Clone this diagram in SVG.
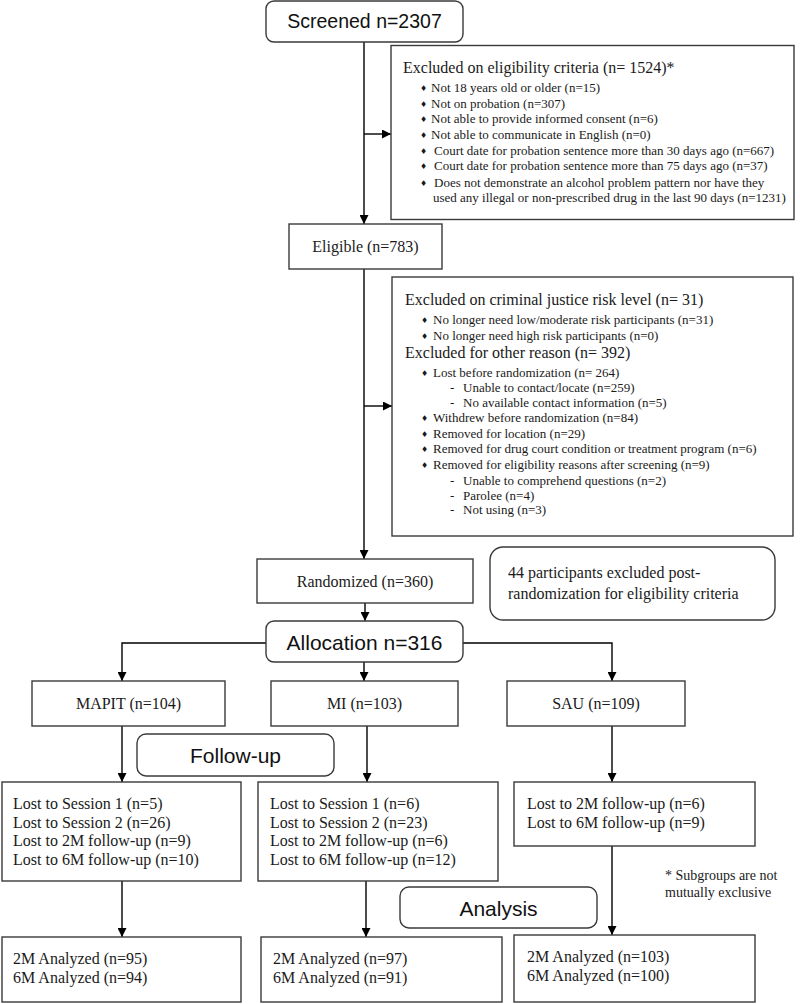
<svg xmlns="http://www.w3.org/2000/svg" width="800" height="1004" viewBox="0 0 800 1004">
<defs>
<marker id="ah" viewBox="0 0 10 10" refX="10" refY="5" markerWidth="9" markerHeight="9" markerUnits="userSpaceOnUse" orient="auto">
<path d="M0,0 L10,5 L0,10 z" fill="#000"/>
</marker>
<style>
.box{fill:#fff;stroke:#3a3a3a;stroke-width:1.4}
.ln{fill:none;stroke:#000;stroke-width:1.4}
.arr{fill:none;stroke:#000;stroke-width:1.4;marker-end:url(#ah)}
.sans{font-family:"Liberation Sans",Arial,sans-serif;fill:#111}
.ser{font-family:"Liberation Serif","Times New Roman",serif;fill:#1a1a1a}
.s16{font-size:16px}
.s13{font-size:13px}
.s14{font-size:14px}
.bul{font-family:"DejaVu Sans",sans-serif;font-size:8px;fill:#1a1a1a}
.mid{text-anchor:middle}
</style>
</defs>
<rect width="800" height="1004" fill="#fff"/>

<g id="connectors">
<path class="arr" d="M364,42 V224"/>
<path class="arr" d="M364,134 H391"/>
<path class="arr" d="M364,269 V559"/>
<path class="arr" d="M364,406 H392"/>
<path class="arr" d="M365,603 V621"/>
<path class="arr" d="M266,643 H122 V681"/>
<path class="arr" d="M364,662 V681"/>
<path class="arr" d="M463,643 H612 V681"/>
<path class="arr" d="M122,726 V782"/>
<path class="arr" d="M367,726 V782"/>
<path class="arr" d="M612,726 V782"/>
<path class="arr" d="M122,881 V937"/>
<path class="arr" d="M366,881 V937"/>
<path class="arr" d="M612,846 V935"/>
</g>

<g id="screened">
<rect class="box" x="266" y="1" width="197" height="41" rx="8"/>
<text class="sans mid" x="364.5" y="28" font-size="19.5">Screened n=2307</text>
</g>

<g id="excluded-eligibility">
<rect class="box" x="391" y="45.5" width="403" height="174"/>
<text class="ser s16" x="403" y="73">Excluded on eligibility criteria (n= 1524)*</text>
<g class="ser s13">
<text x="431" y="92">Not 18 years old or older (n=15)</text>
<text x="431" y="108">Not on probation (n=307)</text>
<text x="431" y="123">Not able to provide informed consent (n=6)</text>
<text x="431" y="139">Not able to communicate in English (n=0)</text>
<text x="434" y="155">Court date for probation sentence more than 30 days ago (n=667)</text>
<text x="434" y="170">Court date for probation sentence more than 75 days ago (n=37)</text>
<text x="434" y="187">Does not demonstrate an alcohol problem pattern nor have they</text>
<text x="433" y="202">used any illegal or non-prescribed drug in the last 90 days (n=1231)</text>
</g>
<g class="bul">
<text x="420" y="91">♦</text>
<text x="420" y="107">♦</text>
<text x="420" y="122">♦</text>
<text x="420" y="138">♦</text>
<text x="420" y="154">♦</text>
<text x="420" y="169">♦</text>
<text x="420" y="186">♦</text>
</g>
</g>

<g id="eligible">
<rect class="box" x="289" y="224" width="153" height="45"/>
<text class="ser s16 mid" x="365.5" y="252">Eligible (n=783)</text>
</g>

<g id="excluded-other">
<rect class="box" x="392" y="277" width="401" height="259"/>
<text class="ser s16" x="405" y="304.5">Excluded on criminal justice risk level (n= 31)</text>
<text class="ser s16" x="405" y="357.5">Excluded for other reason (n= 392)</text>
<g class="ser s13">
<text x="433" y="323.5">No longer need low/moderate risk participants (n=31)</text>
<text x="433" y="339.5">No longer need high risk participants (n=0)</text>
<text x="433" y="376.5">Lost before randomization (n= 264)</text>
<text x="450" y="391.5">-</text><text x="463" y="391.5">Unable to contact/locate (n=259)</text>
<text x="450" y="406.5">-</text><text x="463" y="406.5">No available contact information (n=5)</text>
<text x="433" y="422">Withdrew before randomization (n=84)</text>
<text x="433" y="437.5">Removed for location (n=29)</text>
<text x="433" y="453">Removed for drug court condition or treatment program (n=6)</text>
<text x="433" y="469">Removed for eligibility reasons after screening (n=9)</text>
<text x="450" y="484.5">-</text><text x="463" y="484.5">Unable to comprehend questions (n=2)</text>
<text x="450" y="499.5">-</text><text x="463" y="499.5">Parolee (n=4)</text>
<text x="450" y="514">-</text><text x="463" y="514">Not using (n=3)</text>
</g>
<g class="bul">
<text x="421" y="322.5">♦</text>
<text x="421" y="338.5">♦</text>
<text x="421" y="375.5">♦</text>
<text x="421" y="421">♦</text>
<text x="421" y="436.5">♦</text>
<text x="421" y="452">♦</text>
<text x="421" y="468">♦</text>
</g>
</g>

<g id="randomized">
<rect class="box" x="257" y="559" width="216" height="44"/>
<text class="ser s16 mid" x="365" y="587">Randomized (n=360)</text>
</g>

<g id="post-randomization-note">
<rect class="box" x="490" y="547" width="285" height="73" rx="13"/>
<text class="ser s16" x="508" y="578">44 participants excluded post-</text>
<text class="ser s16" x="508" y="599">randomization for eligibility criteria</text>
</g>

<g id="allocation">
<rect class="box" x="266" y="621" width="197" height="41" rx="8"/>
<text class="sans mid" x="364.5" y="650" font-size="21">Allocation n=316</text>
</g>

<g id="mapit">
<rect class="box" x="32" y="681" width="193" height="45"/>
<text class="ser s16 mid" x="128.5" y="709">MAPIT (n=104)</text>
</g>

<g id="mi">
<rect class="box" x="271" y="681" width="187" height="45"/>
<text class="ser s16 mid" x="364.5" y="709">MI (n=103)</text>
</g>

<g id="sau">
<rect class="box" x="507" y="681" width="178" height="45"/>
<text class="ser s16 mid" x="596" y="709">SAU (n=109)</text>
</g>

<g id="follow-up">
<rect class="box" x="137" y="734" width="197" height="42" rx="9"/>
<text class="sans mid" x="235.5" y="763" font-size="21">Follow-up</text>
</g>

<g id="lost-mapit">
<rect class="box" x="2" y="782" width="239" height="99"/>
<text class="ser s16" x="13" y="809">Lost to Session 1 (n=5)</text>
<text class="ser s16" x="13" y="828">Lost to Session 2 (n=26)</text>
<text class="ser s16" x="13" y="846">Lost to 2M follow-up (n=9)</text>
<text class="ser s16" x="13" y="865">Lost to 6M follow-up (n=10)</text>
</g>

<g id="lost-mi">
<rect class="box" x="258" y="782" width="240" height="99"/>
<text class="ser s16" x="270" y="809">Lost to Session 1 (n=6)</text>
<text class="ser s16" x="270" y="828">Lost to Session 2 (n=23)</text>
<text class="ser s16" x="270" y="846">Lost to 2M follow-up (n=6)</text>
<text class="ser s16" x="270" y="865">Lost to 6M follow-up (n=12)</text>
</g>

<g id="lost-sau">
<rect class="box" x="514" y="782" width="241" height="64"/>
<text class="ser s16" x="527" y="809">Lost to 2M follow-up (n=6)</text>
<text class="ser s16" x="527" y="828">Lost to 6M follow-up (n=9)</text>
</g>

<g id="footnote">
<text class="ser s14" x="665" y="880">* Subgroups are not</text>
<text class="ser s14" x="665" y="897">mutually exclusive</text>
</g>

<g id="analysis">
<rect class="box" x="400" y="887" width="197" height="41" rx="9"/>
<text class="sans mid" x="498.5" y="915.5" font-size="21">Analysis</text>
</g>

<g id="analyzed-mapit">
<rect class="box" x="2" y="937" width="239" height="65"/>
<text class="ser s16" x="13" y="964">2M Analyzed (n=95)</text>
<text class="ser s16" x="13" y="983">6M Analyzed (n=94)</text>
</g>

<g id="analyzed-mi">
<rect class="box" x="261" y="937" width="241" height="65"/>
<text class="ser s16" x="273" y="964">2M Analyzed (n=97)</text>
<text class="ser s16" x="273" y="983">6M Analyzed (n=91)</text>
</g>

<g id="analyzed-sau">
<rect class="box" x="514" y="935" width="241" height="67"/>
<text class="ser s16" x="527" y="962">2M Analyzed (n=103)</text>
<text class="ser s16" x="527" y="981">6M Analyzed (n=100)</text>
</g>
</svg>
